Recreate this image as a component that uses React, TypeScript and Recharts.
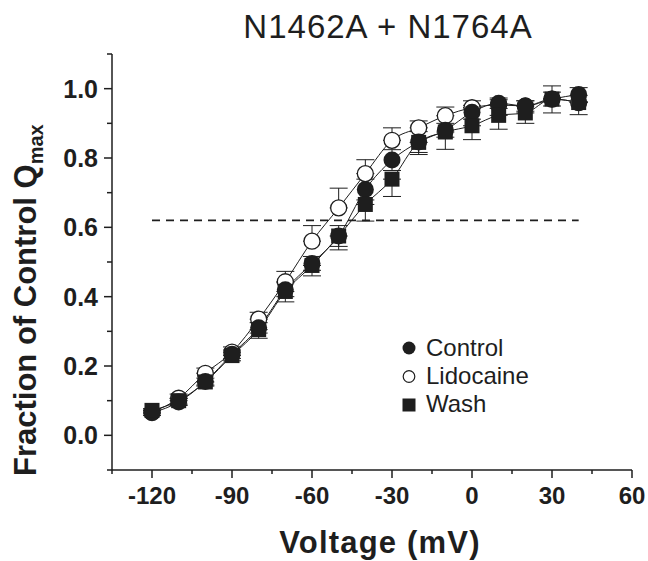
import React from 'react';
import { ComposedChart, XAxis, YAxis, Scatter, Line, ErrorBar, ReferenceLine, Customized } from 'recharts';

const voltages = [-120, -110, -100, -90, -80, -70, -60, -50, -40, -30, -20, -10, 0, 10, 20, 30, 40];
const control = [0.065, 0.096, 0.155, 0.234, 0.31, 0.42, 0.496, 0.575, 0.709, 0.794, 0.846, 0.88, 0.932, 0.958, 0.95, 0.97, 0.983];
const lidocaine = [0.067, 0.107, 0.179, 0.24, 0.335, 0.443, 0.56, 0.656, 0.755, 0.851, 0.887, 0.922, 0.945, 0.953, 0.95, 0.97, 0.96];
const wash = [0.072, 0.1, 0.154, 0.23, 0.305, 0.415, 0.49, 0.575, 0.666, 0.739, 0.845, 0.875, 0.893, 0.923, 0.93, 0.97, 0.96];
const controlErr = [0.008, 0.01, 0.01, 0.012, 0.015, 0.02, 0.02, 0.03, 0.03, 0.03, 0.03, 0.02, 0.02, 0.015, 0.015, 0.02, 0.02];
const lidocaineErrUp = [0.01, 0.012, 0.015, 0.015, 0.02, 0.03, 0.045, 0.057, 0.04, 0.036, 0.02, 0.025, 0.02, 0.015, 0.015, 0.038, 0.02];
const washErrDown = [0.01, 0.01, 0.012, 0.015, 0.025, 0.03, 0.03, 0.04, 0.048, 0.05, 0.035, 0.05, 0.04, 0.04, 0.03, 0.04, 0.035];
const halfLine = 0.62;
const xTicks = [-135, -120, -105, -90, -75, -60, -45, -30, -15, 0, 15, 30, 45, 60];
const yTicks = [-0.1, 0, 0.1, 0.2, 0.3, 0.4, 0.5, 0.6, 0.7, 0.8, 0.9, 1.0, 1.1];
const seriesNames = ['Control', 'Lidocaine', 'Wash'];

const controlData = voltages.map((x, i) => ({ x, y: control[i], err: [controlErr[i], controlErr[i]] }));
const lidoData = voltages.map((x, i) => ({ x, y: lidocaine[i], err: [0, lidocaineErrUp[i]] }));
const washData = voltages.map((x, i) => ({ x, y: wash[i], err: [washErrDown[i], 0] }));

const INK = '#1e1e1e';
const FONT = '"Liberation Sans", Arial, Helvetica, sans-serif';

const FilledCircle = (p: any) => <circle cx={p.cx} cy={p.cy} r={8.5} fill={INK} />;
const OpenCircle = (p: any) => <circle cx={p.cx} cy={p.cy} r={8} fill="#fff" stroke={INK} strokeWidth={1.3} />;
const FilledSquare = (p: any) => <rect x={p.cx - 7.5} y={p.cy - 7.5} width={15} height={15} fill={INK} />;

const YTick = (props: any) => {
  const { x, y, payload } = props;
  const v = payload.value;
  const k = Math.round(v * 10);
  const major = k >= 0 && k <= 10 && k % 2 === 0;
  return (
    <g>
      <line x1={x} x2={x - (major ? 8 : 5)} y1={y} y2={y} stroke={INK} strokeWidth={1.5} />
      {major && (
        <text x={x - 14} y={y + 9} textAnchor="end" fontFamily={FONT} fontWeight="bold" fontSize={25} fill={INK}>
          {(k / 10).toFixed(1)}
        </text>
      )}
    </g>
  );
};

const XTick = (props: any) => {
  const { x, y, payload } = props;
  const v = payload.value;
  const major = (v + 120) % 30 === 0;
  return (
    <g>
      <line x1={x} x2={x} y1={y} y2={y + (major ? 8 : 4)} stroke={INK} strokeWidth={1.5} />
      {major && (
        <text x={x} y={y + 34} textAnchor="middle" fontFamily={FONT} fontWeight="bold" fontSize={24} fill={INK}>
          {v}
        </text>
      )}
    </g>
  );
};

const Decorations = () => (
  <g>
    <text x={388} y={38} textAnchor="middle" fontFamily={FONT} fontSize={33} letterSpacing={1} fill={INK}>
      N1462A + N1764A
    </text>
    <text x={380} y={553} textAnchor="middle" fontFamily={FONT} fontWeight="bold" fontSize={31} letterSpacing={1.2} fill={INK}>
      Voltage (mV)
    </text>
    <text
      x={0}
      y={0}
      transform="translate(36,476) rotate(-90)"
      textAnchor="start"
      fontFamily={FONT}
      fontWeight="bold"
      fontSize={31}
      fill={INK}
    >
      Fraction of Control Q
      <tspan fontSize={20} dy={7}>max</tspan>
    </text>
    <g fontFamily={FONT} fontSize={24} fill={INK}>
      <circle cx={409} cy={348} r={6.5} fill={INK} />
      <text x={426} y={356}>{seriesNames[0]}</text>
      <circle cx={409} cy={376.5} r={5.8} fill="#fff" stroke={INK} strokeWidth={1.2} />
      <text x={426} y={384}>{seriesNames[1]}</text>
      <rect x={402.5} y={398.5} width={13} height={13} fill={INK} />
      <text x={426} y={412}>{seriesNames[2]}</text>
    </g>
  </g>
);

export default function App() {
  return (
    <div style={{ position: 'absolute', left: 0, top: 0, width: 648, height: 561, background: '#fff' }}>
      <ComposedChart width={648} height={561} margin={{ top: 54, right: 16, left: 0, bottom: 0 }}>
        <XAxis
          type="number"
          dataKey="x"
          domain={[-135, 60]}
          ticks={xTicks}
          interval={0}
          height={91}
          tickLine={false}
          tickSize={0}
          tickMargin={0}
          axisLine={{ stroke: INK, strokeWidth: 1.5 }}
          tick={<XTick />}
        />
        <YAxis
          type="number"
          dataKey="y"
          domain={[-0.1, 1.1]}
          ticks={yTicks}
          interval={0}
          width={112}
          tickLine={false}
          tickSize={0}
          tickMargin={0}
          axisLine={{ stroke: INK, strokeWidth: 1.5 }}
          tick={<YTick />}
        />
        <ReferenceLine
          segment={[{ x: -120, y: halfLine }, { x: 40, y: halfLine }]}
          stroke={INK}
          strokeWidth={1.6}
          strokeDasharray="8 6"
        />
        <Scatter data={lidoData} shape={<OpenCircle />} isAnimationActive={false}>
          <ErrorBar dataKey="err" direction="y" width={9} stroke={INK} strokeWidth={1} />
        </Scatter>
        <Scatter data={controlData} shape={<FilledCircle />} isAnimationActive={false}>
          <ErrorBar dataKey="err" direction="y" width={9} stroke={INK} strokeWidth={1} />
        </Scatter>
        <Scatter data={washData} shape={<FilledSquare />} isAnimationActive={false}>
          <ErrorBar dataKey="err" direction="y" width={9} stroke={INK} strokeWidth={1} />
        </Scatter>
        <Line data={washData} dataKey="y" type="monotone" stroke={INK} strokeWidth={1} dot={false} isAnimationActive={false} />
        <Line data={controlData} dataKey="y" type="monotone" stroke={INK} strokeWidth={1} dot={false} isAnimationActive={false} />
        <Line data={lidoData} dataKey="y" type="monotone" stroke={INK} strokeWidth={1} dot={false} isAnimationActive={false} />
        <Customized component={<Decorations />} />
      </ComposedChart>
    </div>
  );
}
